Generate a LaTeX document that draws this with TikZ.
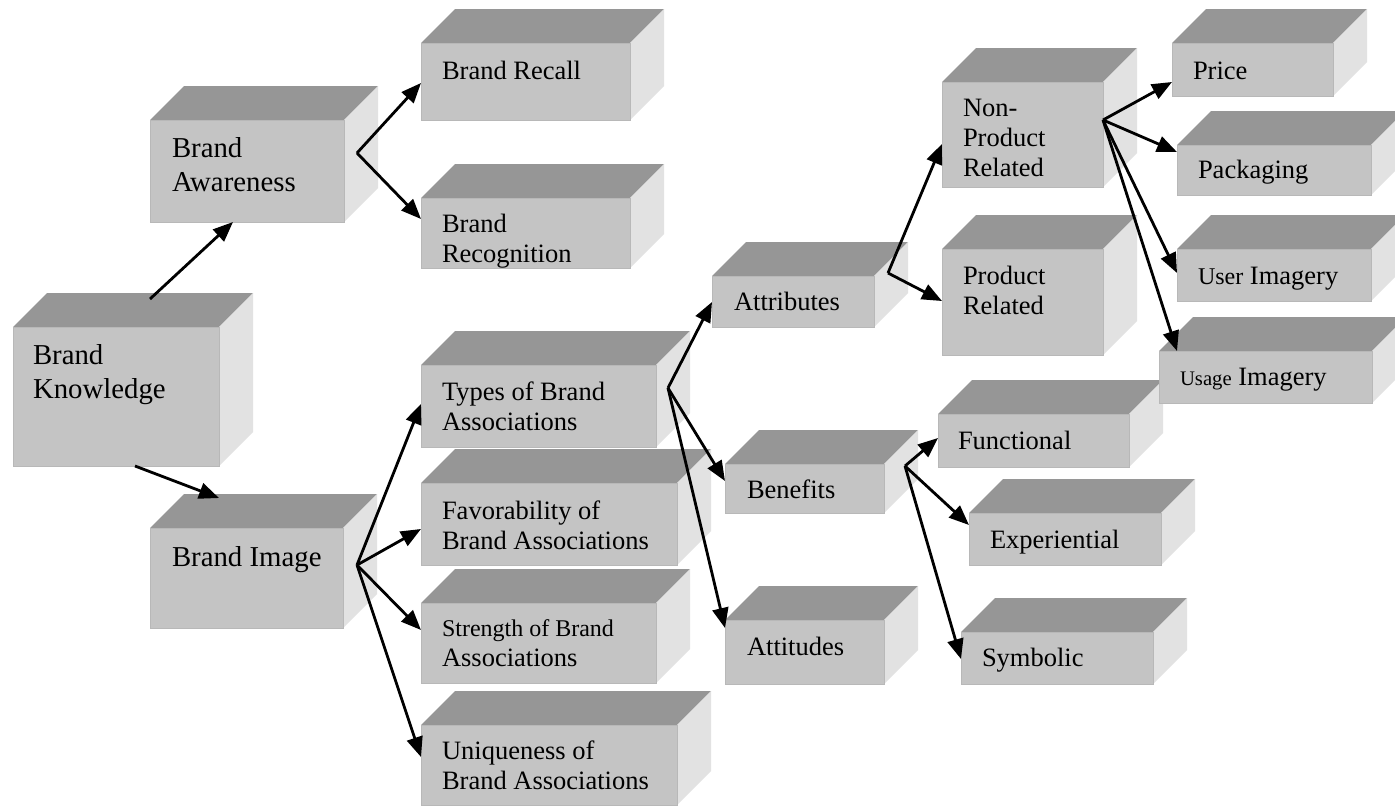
\documentclass[tikz,border=0pt]{standalone}
\usepackage{fontspec}
\setmainfont{Liberation Serif}
\usetikzlibrary{arrows.meta}

\definecolor{topgray}{HTML}{969696}
\definecolor{frontgray}{HTML}{C4C4C4}
\definecolor{sidegray}{HTML}{E2E2E2}
\definecolor{edgegray}{HTML}{B8B8B8}

\tikzset{
  topface/.style={fill=topgray},
  sideface/.style={fill=sidegray},
  frontface/.style={fill=frontgray, draw=edgegray, line width=1pt, inner sep=0pt, outer sep=0pt},
  lab/.style={inner sep=0pt, outer sep=0pt, anchor=base west, font=\fontsize{26.5}{30}\selectfont},
  big/.style={font=\fontsize{28.8}{34}\selectfont},
  link/.style={line width=2.8pt, -{Triangle[length=20pt,width=16pt]}},
}

% A solid block: name, front-face corners (x0,y0) and (x1,y1); depth 34
\newcommand\solidbox[5]{%
  \fill[topface] (#2,#3) -- ({#2+34},{#3-34}) -- ({#4+34},{#3-34}) -- (#4,#3) -- cycle;
  \fill[sideface] (#4,#3) -- ({#4+34},{#3-34}) -- ({#4+34},{#5-34}) -- (#4,#5) -- cycle;
  \node[frontface, anchor=north west, minimum width={(#4-#2)*1pt}, minimum height={(#5-#3)*1pt}] (#1) at (#2,#3) {};
}
\newcommand\rows[1]{\begin{tabular}[t]{@{}l@{}}#1\end{tabular}}

\begin{document}
\begin{tikzpicture}[x=1pt,y=-1pt]
\useasboundingbox (0,0) rectangle (1395,806);
\fill[white] (0,0) rectangle (1395,806);

% blocks
\solidbox{bk}{13}{327}{219}{466}
\solidbox{aw}{150}{120}{344}{222}
\solidbox{recall}{421}{43}{630}{120}
\solidbox{recog}{421}{198}{630}{268}
\solidbox{img}{150}{528}{343}{628}
\solidbox{types}{421}{365}{656}{447}
\solidbox{fav}{421}{483}{677}{565}
\solidbox{str}{421}{603}{656}{683}
\solidbox{uniq}{421}{725}{677}{805}
\solidbox{attr}{712}{276}{874}{327}
\solidbox{ben}{725}{464}{884}{513}
\solidbox{att}{725}{620}{884}{684}
\solidbox{nonp}{942}{82}{1103}{187}
\solidbox{prod}{942}{249}{1103}{355}
\solidbox{price}{1172}{43}{1333}{96}
\solidbox{pack}{1177}{145}{1371}{195}
\solidbox{user}{1177}{249}{1371}{301}
\solidbox{func}{938}{414}{1129}{467}
\solidbox{usage}{1159}{351}{1372}{403}
\solidbox{exp}{969}{513}{1161}{565}
\solidbox{sym}{961}{632}{1153}{684}

% labels
\node[lab,big] (bk-t) at (33,364) {\rows{Brand\\Knowledge}};
\node[lab,big] (aw-t) at (172,157) {\rows{Brand\\Awareness}};
\node[lab] (recall-t) at (442,79) {Brand Recall};
\begin{scope}
  \clip (421,198) rectangle (630,267);
  \node[lab] (recog-t) at (442,232) {\rows{Brand\\Recognition}};
\end{scope}
\node[lab,big] (img-t) at (172,566) {Brand Image};
\node[lab] (types-t) at (442,400) {\rows{Types of Brand\\Associations}};
\node[lab] (fav-t) at (442,519) {\rows{Favorability of\\Brand Associations}};
\node[lab] (str-t) at (442,636) {\rows{{\fontsize{24}{29}\selectfont Strength of Brand}\\Associations}};
\node[lab] (uniq-t) at (442,759) {\rows{Uniqueness of\\Brand Associations}};
\node[lab] (attr-t) at (734,310) {Attributes};
\node[lab] (ben-t) at (747,498) {Benefits};
\node[lab] (att-t) at (747,655) {Attitudes};
\node[lab] (nonp-t) at (963,116) {\rows{Non-\\Product\\Related}};
\node[lab] (prod-t) at (963,284) {\rows{Product\\Related}};
\node[lab] (price-t) at (1193,79) {Price};
\node[lab] (pack-t) at (1198,178) {Packaging};
\node[lab] (user-t) at (1198,284) {{\fontsize{24}{28}\selectfont User} Imagery};
\node[lab] (usage-t) at (1180,385) {{\fontsize{20.7}{25}\selectfont Usage} Imagery};
\node[lab] (func-t) at (958,449) {Functional};
\node[lab] (exp-t) at (990,548) {Experiential};
\node[lab] (sym-t) at (982,666) {Symbolic};

% branching points
\coordinate (aw-fork) at (357,153);
\coordinate (img-fork) at (357,565);
\coordinate (types-fork) at (668,388);
\coordinate (attr-fork) at (888,273);
\coordinate (nonp-fork) at (1103,120);
\coordinate (ben-fork) at (905,466);

% connectors
\draw[link] ([xshift=137pt,yshift=28pt]bk.north west) -- ([xshift=-14pt]aw.south);
\draw[link] ([xshift=19pt]bk.south) -- ([xshift=69pt,yshift=30pt]img.north west);

\draw[link] (aw-fork) -- ([yshift=-40pt]recall.north west);
\draw[link] (aw-fork) -- ([yshift=-21pt]recog.north west);

\draw[link] (img-fork) -- ([yshift=-39pt]types.north west);
\draw[link] (img-fork) -- ([yshift=-46pt]fav.north west);
\draw[link] (img-fork) -- ([yshift=-27pt]str.north west);
\draw[link] (img-fork) -- ([yshift=-32pt]uniq.north west);

\draw[link] (types-fork) -- ([yshift=-26pt]attr.north west);
\draw[link] (types-fork) -- ([yshift=-17pt]ben.north west);
\draw[link] (types-fork) -- ([yshift=-8pt]att.north west);

\draw[link] (attr-fork) -- ([yshift=-62pt]nonp.north west);
\draw[link] (attr-fork) -- ([yshift=-52pt]prod.north west);

\draw[link] (nonp-fork) -- ([yshift=-39pt]price.north west);
\draw[link] (nonp-fork) -- ([yshift=-7pt]pack.north west);
\draw[link] (nonp-fork) -- ([yshift=-24pt]user.north west);
\draw[link] (nonp-fork) -- ([xshift=18pt]usage.north west);

\draw[link] (ben-fork) -- ([yshift=-24pt]func.north west);
\draw[link] (ben-fork) -- ([yshift=-12pt]exp.north west);
\draw[link] (ben-fork) -- ([yshift=-27pt]sym.north west);
\end{tikzpicture}
\end{document}
